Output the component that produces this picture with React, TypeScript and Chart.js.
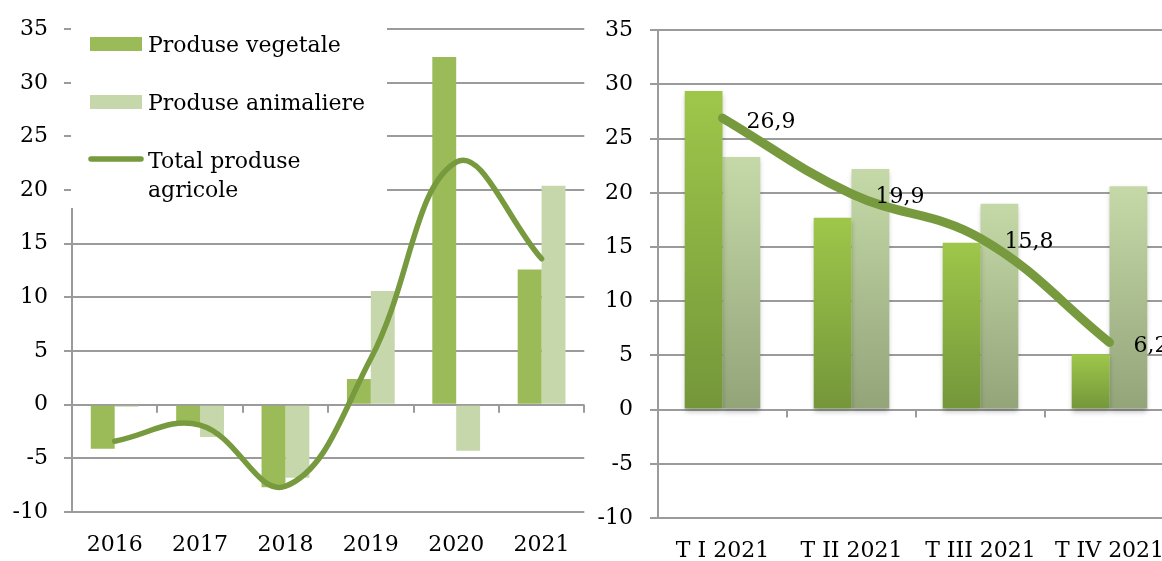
import React, { useEffect, useRef } from "react";
import { Chart, registerables } from "chart.js";

Chart.register(...registerables);

// ---------- data ----------
const yearLabels = ["2016", "2017", "2018", "2019", "2020", "2021"];
const yearVeg = [-4.1, -1.7, -7.7, 2.4, 32.4, 12.6];
const yearAnim = [-0.2, -3.0, -6.8, 10.6, -4.3, 20.4];
const yearTotal = [-3.4, -1.9, -7.6, 4.3, 22.6, 13.6];

const quarterLabels = ["T I 2021", "T II 2021", "T III 2021", "T IV 2021"];
const quarterVeg = [29.4, 17.7, 15.4, 5.1];
const quarterAnim = [23.3, 22.2, 19.0, 20.6];
const quarterTotal = [26.9, 19.9, 15.8, 6.2];
const quarterTotalText = ["26,9", "19,9", "15,8", "6,2"];

const seriesNames = ["Produse vegetale", "Produse animaliere", "Total produse agricole"];
const legendTextLines = [["Produse vegetale"], ["Produse animaliere"], ["Total produse", "agricole"]];

const yMin = -10;
const yMax = 35;
const yStep = 5;

// ---------- styles ----------
const FONT_FAMILY = "'DejaVu Serif', serif";
const GRID = "#9b9b9b";
const VEG = "#9bbb59";
const ANIM = "#c6d7ab";
const LINE = "#789a3f";
const VEG_TOP = "#9ec74a";
const VEG_BOTTOM = "#74963a";
const ANIM_TOP = "#c5d9a8";
const ANIM_BOTTOM = "#93a479";

const tickFont = { family: FONT_FAMILY, size: 22 };

const zeroTicks = {
  id: "zeroTicks",
  beforeDatasetsDraw(chart: any) {
    const x = chart.scales.x;
    const y = chart.scales.y;
    const ctx = chart.ctx;
    const y0 = y.getPixelForValue(0);
    const n = chart.data.labels.length;
    const w = (x.right - x.left) / n;
    ctx.save();
    ctx.strokeStyle = GRID;
    ctx.lineWidth = 2;
    for (let i = 1; i <= n; i++) {
      const px = Math.round(x.left + i * w);
      ctx.beginPath();
      ctx.moveTo(px, y0);
      ctx.lineTo(px, y0 + 8);
      ctx.stroke();
    }
    ctx.restore();
  },
};

const legendBox = {
  id: "legendBox",
  beforeDatasetsDraw(chart: any) {
    const ctx = chart.ctx;
    ctx.save();
    ctx.fillStyle = "#ffffff";
    ctx.fillRect(71, 28, 316, 180);
    // swatches
    ctx.fillStyle = VEG;
    ctx.fillRect(90, 37, 52, 14);
    ctx.fillStyle = ANIM;
    ctx.fillRect(90, 95, 52, 14);
    ctx.strokeStyle = LINE;
    ctx.lineWidth = 5.5;
    ctx.lineCap = "round";
    ctx.beginPath();
    ctx.moveTo(91, 159);
    ctx.lineTo(141, 159);
    ctx.stroke();
    // texts
    ctx.fillStyle = "#000";
    ctx.font = `22px ${FONT_FAMILY}`;
    ctx.textBaseline = "alphabetic";
    ctx.textAlign = "left";
    const baselines = [[51.5], [109.5], [167.5, 196.5]];
    legendTextLines.forEach((lines, i) => {
      lines.forEach((t, j) => ctx.fillText(t, 148, baselines[i][j]));
    });
    ctx.restore();
  },
};

const barShadow = {
  id: "barShadow",
  beforeDatasetDraw(chart: any, args: any) {
    if (chart.getDatasetMeta(args.index).type !== "bar") return;
    const ctx = chart.ctx;
    ctx.save();
    ctx.shadowColor = "rgba(0,0,0,0.25)";
    ctx.shadowBlur = 5;
    ctx.shadowOffsetY = 3;
  },
  afterDatasetDraw(chart: any, args: any) {
    if (chart.getDatasetMeta(args.index).type !== "bar") return;
    chart.ctx.restore();
  },
};

const valueLabels = {
  id: "valueLabels",
  afterDatasetsDraw(chart: any) {
    const meta = chart.getDatasetMeta(2);
    const ctx = chart.ctx;
    ctx.save();
    ctx.fillStyle = "#000";
    ctx.font = `22px ${FONT_FAMILY}`;
    ctx.textAlign = "left";
    ctx.textBaseline = "alphabetic";
    meta.data.forEach((pt: any, i: number) => {
      ctx.fillText(quarterTotalText[i], pt.x + 24, pt.y + 9.5);
    });
    ctx.restore();
  },
};

function gradient(top: string, bottom: string) {
  return (c: any) => {
    const chart = c.chart;
    const ys = chart.scales && chart.scales.y;
    if (!ys || c.type !== "data" || c.raw == null) return top;
    const y1 = ys.getPixelForValue(c.raw);
    const y0 = ys.getPixelForValue(0);
    if (!isFinite(y1) || !isFinite(y0) || Math.abs(y1 - y0) < 0.5) return top;
    const g = chart.ctx.createLinearGradient(0, y1, 0, y0);
    g.addColorStop(0, top);
    g.addColorStop(1, bottom);
    return g;
  };
}

function scalesFor(yWidth: number, xHeight: number, yPad: number) {
  return {
    x: {
      type: "category",
      offset: true,
      grid: { display: false, drawTicks: false, tickLength: 0 },
      border: { display: false },
      ticks: { font: tickFont, color: "#000", padding: 20, maxRotation: 0, autoSkip: false },
      afterFit: (s: any) => {
        s.height = xHeight;
      },
    },
    y: {
      min: yMin,
      max: yMax,
      ticks: { stepSize: yStep, font: tickFont, color: "#000", padding: yPad },
      grid: { color: GRID, lineWidth: 2, tickLength: 8, drawTicks: true },
      border: { display: true, color: GRID, width: 2 },
      afterFit: (s: any) => {
        s.width = yWidth;
      },
    },
  };
}

export default function App() {
  const leftRef = useRef<HTMLCanvasElement | null>(null);
  const rightRef = useRef<HTMLCanvasElement | null>(null);

  useEffect(() => {
    const left = new Chart(leftRef.current as HTMLCanvasElement, {
      type: "bar",
      data: {
        labels: yearLabels,
        datasets: [
          {
            label: seriesNames[0],
            data: yearVeg,
            backgroundColor: VEG,
            categoryPercentage: 0.56,
            barPercentage: 1,
            order: 1,
          },
          {
            label: seriesNames[1],
            data: yearAnim,
            backgroundColor: ANIM,
            categoryPercentage: 0.56,
            barPercentage: 1,
            order: 1,
          },
          {
            type: "line",
            label: seriesNames[2],
            data: yearTotal,
            borderColor: LINE,
            backgroundColor: LINE,
            borderWidth: 5.5,
            tension: 0.4,
            pointRadius: 0,
            borderCapStyle: "round",
            borderJoinStyle: "round",
            fill: false,
            order: 0,
          },
        ],
      } as any,
      options: {
        responsive: false,
        animation: false,
        devicePixelRatio: 1,
        layout: { padding: { top: 26, right: 5, bottom: 0, left: 0 } },
        plugins: { legend: { display: false }, tooltip: { enabled: false } },
        scales: scalesFor(72, 49, 16) as any,
      },
      plugins: [zeroTicks, legendBox],
    });

    const right = new Chart(rightRef.current as HTMLCanvasElement, {
      type: "bar",
      data: {
        labels: quarterLabels,
        datasets: [
          {
            label: seriesNames[0],
            data: quarterVeg,
            backgroundColor: gradient(VEG_TOP, VEG_BOTTOM),
            categoryPercentage: 0.586,
            barPercentage: 1,
            order: 1,
          },
          {
            label: seriesNames[1],
            data: quarterAnim,
            backgroundColor: gradient(ANIM_TOP, ANIM_BOTTOM),
            categoryPercentage: 0.586,
            barPercentage: 1,
            order: 1,
          },
          {
            type: "line",
            label: seriesNames[2],
            data: quarterTotal,
            borderColor: LINE,
            backgroundColor: LINE,
            borderWidth: 9,
            tension: 0.4,
            pointRadius: 0,
            borderCapStyle: "round",
            borderJoinStyle: "round",
            fill: false,
            order: 0,
          },
        ],
      } as any,
      options: {
        responsive: false,
        animation: false,
        devicePixelRatio: 1,
        layout: { padding: { top: 29, right: 16, bottom: 0, left: 0 } },
        plugins: { legend: { display: false }, tooltip: { enabled: false } },
        scales: scalesFor(68, 43, 17) as any,
      },
      plugins: [zeroTicks, barShadow, valueLabels],
    });

    return () => {
      left.destroy();
      right.destroy();
    };
  }, []);

  return (
    <div
      style={{
        position: "fixed",
        left: 0,
        top: 0,
        width: 1162,
        height: 561,
        overflow: "hidden",
        background: "#ffffff",
      }}
    >
      <canvas
        ref={leftRef}
        width={590}
        height={561}
        style={{ position: "absolute", left: 0, top: 0, width: 590, height: 561, display: "block" }}
      />
      <canvas
        ref={rightRef}
        width={600}
        height={561}
        style={{ position: "absolute", left: 590, top: 0, width: 600, height: 561, display: "block" }}
      />
    </div>
  );
}
